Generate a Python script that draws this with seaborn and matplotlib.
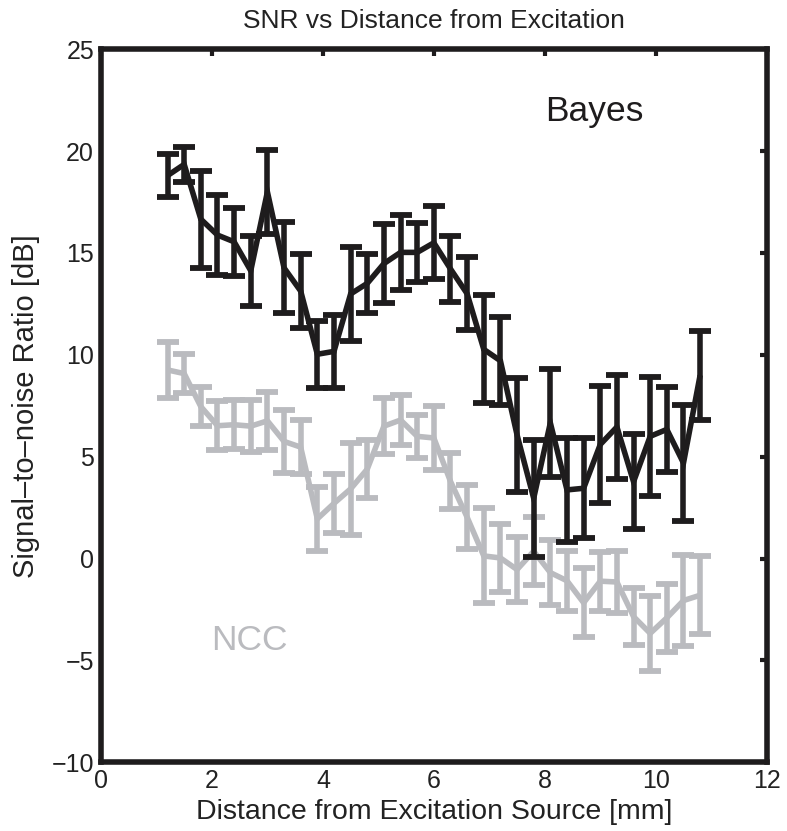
import matplotlib
matplotlib.use("Agg")
import matplotlib.pyplot as plt
import numpy as np
import pandas as pd
import seaborn as sns

# Distance from the excitation source [mm]
distance = [1.2, 1.5, 1.8, 2.1, 2.4, 2.7, 3.0, 3.3, 3.6, 3.9, 4.2,
            4.5, 4.8, 5.1, 5.4, 5.7, 6.0, 6.3, 6.6, 6.9, 7.2, 7.5,
            7.8, 8.1, 8.4, 8.7, 9.0, 9.3, 9.6, 9.9, 10.2, 10.5, 10.8]

# Bayesian estimator: mean SNR [dB] and half-width of the error bar
bayes_snr = [18.8, 19.35, 16.66, 15.88, 15.55, 14.13, 18.0, 14.27, 13.13, 10.03, 10.17,
             12.99, 13.51, 14.48, 15.03, 15.03, 15.5, 14.22, 13.0, 10.27, 9.71, 6.07,
             2.96, 6.66, 3.37, 3.45, 5.6, 6.46, 3.77, 6.0, 6.34, 4.69, 9.0]
bayes_err = [1.05, 0.85, 2.38, 1.97, 1.66, 1.71, 2.05, 2.23, 1.82, 1.65, 1.79,
             2.29, 1.44, 1.95, 1.84, 1.43, 1.79, 1.62, 1.78, 2.65, 2.17, 2.78,
             2.87, 2.64, 2.54, 2.46, 2.89, 2.57, 2.34, 2.93, 2.08, 2.85, 2.18]

# Normalised cross-correlation: mean SNR [dB] and half-width of the error bar
ncc_snr = [9.26, 9.08, 7.46, 6.52, 6.57, 6.5, 6.76, 5.75, 5.47, 1.95, 2.71,
           3.42, 4.39, 6.5, 6.8, 6.0, 5.92, 3.79, 2.03, 0.13, 0.03, -0.54,
           0.36, -0.69, -1.09, -2.17, -1.11, -1.15, -2.85, -3.67, -2.91, -2.06, -1.8]
ncc_err = [1.39, 0.97, 0.96, 1.19, 1.2, 1.26, 1.43, 1.54, 1.33, 1.58, 1.44,
           2.27, 1.44, 1.37, 1.23, 1.04, 1.58, 1.38, 1.58, 2.33, 1.66, 1.58,
           1.66, 1.6, 1.48, 1.7, 1.45, 1.54, 1.39, 1.83, 1.66, 2.23, 1.92]

methods = ["Bayes", "NCC"]
x_ticks = [0, 2, 4, 6, 8, 10, 12]
y_ticks = [-10, -5, 0, 5, 10, 15, 20, 25]

BLACK = "#1e1c1d"
GRAY = "#babbbf"
TEXT = "#222222"
palette = {"Bayes": BLACK, "NCC": GRAY}

sns.set_style("white")
plt.rcParams["font.family"] = ["Liberation Sans", "DejaVu Sans"]
plt.rcParams["lines.solid_joinstyle"] = "miter"
plt.rcParams["lines.solid_capstyle"] = "butt"

df = pd.concat([
    pd.DataFrame({"distance": distance, "snr": ncc_snr, "err": ncc_err, "method": "NCC"}),
    pd.DataFrame({"distance": distance, "snr": bayes_snr, "err": bayes_err, "method": "Bayes"}),
], ignore_index=True)

fig = plt.figure(figsize=(7.87, 8.31), dpi=100)
ax = fig.add_axes([0.1283, 0.0827, 0.9742 - 0.1283, 0.9407 - 0.0827])

LW = 4.0
for name in ["NCC", "Bayes"]:
    sub = df[df["method"] == name]
    ax.errorbar(sub["distance"], sub["snr"], yerr=sub["err"], fmt="none",
                ecolor=palette[name], elinewidth=LW, capsize=8, capthick=4.2,
                zorder=2 if name == "NCC" else 4)
    sns.lineplot(data=sub, x="distance", y="snr", color=palette[name],
                 linewidth=LW, sort=False, legend=False, ax=ax,
                 zorder=3 if name == "NCC" else 5)

ax.text(8.9, 21.97, "Bayes", ha="center", va="center", fontsize=25.5, color=BLACK)
ax.text(2.68, -4.0, "NCC", ha="center", va="center", fontsize=25.5, color=GRAY)

ax.set_xlim(0, 12)
ax.set_ylim(-10, 25)
ax.set_xticks(x_ticks)
ax.set_yticks(y_ticks)
ax.tick_params(direction="in", length=5, width=3, top=True, right=True,
               labelsize=18, pad=5, colors=BLACK, labelcolor=TEXT)
for spine in ax.spines.values():
    spine.set_linewidth(4)
    spine.set_color(BLACK)

ax.set_title("SNR vs Distance from Excitation", fontsize=19, pad=15, color=TEXT)
ax.set_xlabel("Distance from Excitation Source [mm]", fontsize=20.5, labelpad=4, color=TEXT)
ax.set_ylabel("Signal\u2013to\u2013noise Ratio [dB]", fontsize=21, labelpad=8, color=TEXT)

fig.savefig("out.png", dpi=100, facecolor="white")
